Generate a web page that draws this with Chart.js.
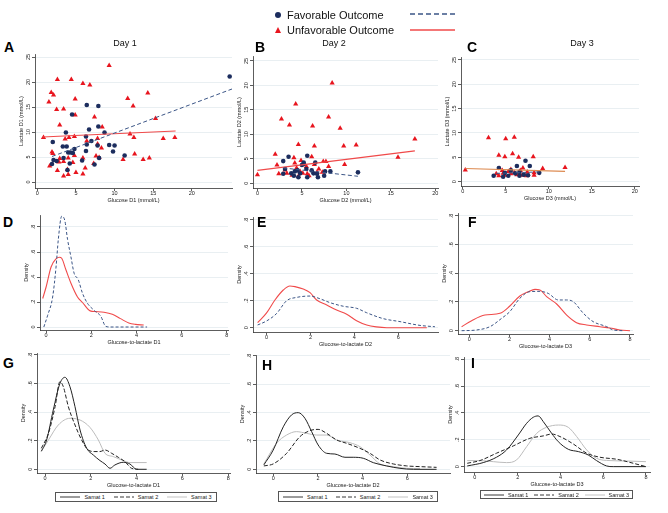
<!DOCTYPE html>
<html>
<head>
<meta charset="utf-8">
<script src="https://cdn.jsdelivr.net/npm/chart.js@4.4.1/dist/chart.umd.min.js"></script>
<style>
  body { margin: 0; background: #fff; font-family: "Liberation Sans", Arial, sans-serif; }
  #fig { position: relative; width: 668px; height: 513px; overflow: hidden; }
  #fig canvas { position: absolute; }
  .letter { position: absolute; font-weight: bold; font-size: 14px; line-height: 14px; color: #000; }
  .day { position: absolute; font-size: 9px; line-height: 10px; color: #111; transform: translateX(-50%); white-space: nowrap; }
  .toplg { position: absolute; font-size: 11px; line-height: 12px; color: #111; white-space: nowrap; }
  .slegend { position: absolute; border: 0.8px solid #555; box-sizing: border-box; display: flex;
             justify-content: space-around; align-items: center; font-size: 5.5px; color: #222; }
  .slegend span.it { display: flex; align-items: center; }
  .slegend svg { margin-right: 4px; }
</style>
</head>
<body>
<div id="fig"></div>
<script>
// ---- axis ticks ----
var glucoseTicks = [0, 5, 10, 15, 20];
var lactateTicks = [0, 5, 10, 15, 20, 25];
var ratioTicks = [0, 2, 4, 6, 8];
var densityTicks = [0, 0.2, 0.4, 0.6, 0.8];

var outcomeNames = ['Favorable Outcome', 'Unfavorable Outcome'];
var samatNames = ['Samat 1', 'Samat 2', 'Samat 3'];
var dayTitles = ['Day 1', 'Day 2', 'Day 3'];

// ---- Day 1 scatter (glucose, lactate) ----
var favD1 = [[24.9,21.1],[6.4,15.4],[7.9,15.2],[4.5,13.5],[7.9,11.1],[6.7,10.5],[3.7,9.9],[8.7,9.9],[2.0,8.0],[6.3,9.1],
  [7.0,8.2],[6.4,7.5],[7.8,7.3],[9.3,7.4],[10.0,7.3],[3.3,7.1],[3.8,7.1],[4.8,6.6],[4.3,5.9],[4.6,5.8],[4.0,5.9],[6.3,6.2],
  [9.8,6.1],[3.4,4.8],[2.1,4.4],[2.5,4.2],[5.8,4.3],[11.3,5.3],[4.2,3.7],[1.9,3.6],[7.4,3.5],[3.9,2.4],[8.0,4.8]];
var unfavD1 = [[0.8,8.9],[9.3,23.3],[2.6,20.5],[4.4,20.5],[5.9,19.7],[6.8,19.4],[1.8,17.9],[2.1,17.4],[1.5,16.0],[4.9,16.6],
  [11.7,16.7],[14.3,17.8],[12.4,15.2],[2.5,14.5],[3.4,14.6],[4.9,13.4],[7.4,13.0],[2.9,11.4],[8.4,11.0],[15.3,12.7],
  [12.0,9.6],[12.5,8.9],[16.3,8.7],[17.8,8.9],[3.6,8.6],[4.1,8.9],[4.8,9.1],[7.8,8.7],[6.4,8.2],[7.8,7.6],[8.3,6.8],
  [1.9,6.0],[2.0,5.7],[2.9,4.7],[4.0,4.8],[4.8,5.3],[5.9,4.8],[8.0,4.9],[12.6,5.6],[14.5,4.8],[13.7,4.5],[11.1,4.5],
  [1.6,3.2],[2.8,4.0],[3.4,4.1],[4.6,3.9],[7.3,3.7],[2.6,2.3],[3.9,2.5],[5.0,1.9],[6.2,2.8],[4.0,1.5],[3.4,1.2],[5.9,1.6],[7.6,5.2]];
var favFitD1 = [[1.9,5.1],[25.2,18.6]];
var unfavFitD1 = [[0.7,9.0],[17.9,10.2]];

// ---- Day 2 scatter ----
var favD2 = [[3.5,5.4],[5.6,5.6],[2.9,4.5],[5.2,3.9],[6.5,4.2],[3.1,2.9],[3.8,2.0],[4.5,2.6],[5.0,3.7],[5.5,2.9],[6.1,2.6],
  [6.7,1.9],[4.1,1.5],[2.9,1.9],[7.6,2.4],[8.2,2.4],[7.5,1.5],[5.6,1.2],[6.8,1.2],[4.6,1.2],[11.3,2.2],[6.3,2.0],[4.8,2.0],
  [4.2,2.4],[5.2,4.2]];
var unfavD2 = [[0.0,1.7],[8.4,20.5],[2.7,13.1],[4.3,16.2],[3.6,11.9],[6.2,11.7],[8.0,13.5],[9.3,11.2],[4.6,7.9],[6.4,7.6],
  [9.7,7.6],[11.1,7.8],[17.7,9.0],[15.8,5.3],[2.0,5.9],[4.1,5.2],[4.9,4.6],[6.1,5.4],[2.2,3.7],[3.1,2.7],[2.4,1.9],[7.4,4.4],
  [7.7,4.4],[9.8,3.8],[6.4,3.8],[4.4,3.1],[5.5,3.4],[6.9,2.9],[8.0,3.4],[5.1,2.0],[5.8,1.5],[4.6,1.4],[6.7,2.2],[4.8,2.4],
  [3.3,2.0],[7.3,2.2],[5.6,1.9],[3.9,1.6],[4.2,4.1]];
var favFitD2 = [[2.9,3.1],[11.3,1.4]];
var unfavFitD2 = [[0.0,2.6],[17.7,6.6]];

// ---- Day 3 scatter ----
var favD3 = [[7.3,4.3],[6.3,3.2],[7.8,3.2],[4.2,2.8],[8.9,1.8],[3.6,1.2],[5.3,1.2],[6.6,1.2],[7.1,1.4],[7.6,1.3],[5.6,2.3],
  [6.6,2.0],[4.7,1.0],[6.1,1.7],[4.9,1.8]];
var unfavD3 = [[0.3,2.4],[3.0,9.0],[5.0,8.8],[6.0,9.1],[4.2,5.4],[4.9,5.1],[5.8,5.7],[6.5,5.0],[8.2,5.1],[11.9,2.9],[9.3,2.7],
  [4.3,2.7],[5.3,2.1],[4.7,1.7],[3.9,1.6],[6.0,1.8],[6.7,2.3],[7.5,2.0],[8.3,1.8],[8.3,1.3],[5.6,1.6],[6.3,1.4],[7.4,1.2],
  [4.2,1.2],[4.9,1.3],[6.9,1.3],[4.6,2.3],[5.6,2.5],[7.0,2.8]];
var favFitD3 = [[3.9,1.7],[9.0,2.0]];
var unfavFitD3 = [[0.3,2.7],[11.9,2.1]];

// ---- glucose-to-lactate densities by outcome ----
var favRatioD1 = [[-0.1,0],[0.07,0.094],[0.29,0.24],[0.44,0.48],[0.54,0.70],[0.69,0.886],[0.83,0.85],[0.95,0.70],[1.1,0.56],
  [1.24,0.43],[1.42,0.38],[1.61,0.27],[1.83,0.19],[2.12,0.134],[2.42,0.086],[2.64,0.005],[2.85,0],[4.47,0]];
var unfavRatioD1 = [[-0.15,0.228],[0,0.32],[0.22,0.48],[0.44,0.545],[0.59,0.558],[0.69,0.55],[0.88,0.456],[1.1,0.35],
  [1.39,0.24],[1.61,0.196],[1.95,0.129],[2.2,0.123],[2.56,0.118],[2.93,0.102],[3.29,0.067],[3.66,0.032],[3.95,0.021],[4.32,0.016]];
var favRatioD2 = [[-0.41,0.02],[0,0.05],[0.46,0.106],[0.91,0.2],[1.37,0.225],[1.98,0.235],[2.43,0.215],[2.89,0.186],
  [3.5,0.159],[4.1,0.144],[4.56,0.111],[5.32,0.067],[6.08,0.045],[6.99,0.017],[7.67,0.007]];
var unfavRatioD2 = [[-0.41,0.037],[0,0.11],[0.38,0.206],[0.76,0.28],[1.06,0.31],[1.29,0.305],[1.67,0.287],[1.98,0.26],
  [2.28,0.206],[2.74,0.168],[3.19,0.131],[3.65,0.10],[4.1,0.052],[4.56,0.02],[5.0,0.006],[5.47,0],[7.3,0]];
var favRatioD3 = [[-0.38,0],[0.37,0.005],[1.03,0.028],[1.61,0.086],[2.02,0.133],[2.52,0.226],[3.02,0.272],[3.52,0.274],
  [3.93,0.26],[4.43,0.214],[4.85,0.214],[5.18,0.202],[5.68,0.121],[6.17,0.063],[6.84,0.028],[7.17,0.005],[7.67,0]];
var unfavRatioD3 = [[-0.38,0.028],[0.12,0.07],[0.78,0.109],[1.53,0.121],[2.02,0.172],[2.52,0.242],[2.94,0.272],[3.27,0.288],
  [3.52,0.284],[3.85,0.237],[4.35,0.186],[4.85,0.109],[5.34,0.056],[5.84,0.04],[6.5,0.028],[7.0,0.019],[7.5,0.005],[8.0,0]];

// ---- glucose-to-lactate densities by Samat grade ----
var samat1D1 = [[-0.16,0.126],[0.07,0.205],[0.36,0.415],[0.65,0.6],[0.87,0.644],[1.09,0.578],[1.31,0.438],[1.53,0.275],
  [1.82,0.147],[2.11,0.1],[2.4,0.061],[2.62,0.037],[2.84,0.007],[3.05,0.03],[3.42,0.049],[3.71,0.037],[4.0,0],[4.44,0]];
var samat2D1 = [[-0.16,0.147],[0.15,0.252],[0.44,0.438],[0.65,0.613],[0.8,0.578],[1.02,0.438],[1.31,0.31],[1.6,0.205],
  [1.89,0.135],[2.18,0.124],[2.4,0.124],[2.62,0.135],[2.91,0.112],[3.2,0.084],[3.49,0.054],[3.78,0.007],[4.07,0]];
var samat3D1 = [[-0.16,0.126],[0.15,0.205],[0.58,0.31],[1.09,0.357],[1.53,0.345],[1.96,0.294],[2.33,0.205],[2.62,0.112],
  [2.98,0.089],[3.42,0.061],[3.71,0.047],[4.44,0.047]];
var samat1D2 = [[-0.42,0.031],[0,0.136],[0.45,0.3],[0.82,0.384],[1.12,0.4],[1.42,0.36],[1.72,0.266],[2.01,0.172],[2.39,0.113],
  [2.76,0.108],[3.21,0.085],[3.58,0.085],[4.03,0.078],[4.48,0.047],[5.07,0.024],[5.67,0.007],[6.27,0],[7.31,0]];
var samat2D2 = [[-0.42,0.024],[0,0.038],[0.6,0.113],[1.19,0.23],[1.64,0.273],[2.01,0.282],[2.39,0.254],[2.84,0.207],
  [3.28,0.184],[3.88,0.148],[4.33,0.113],[4.78,0.066],[5.37,0.038],[5.97,0.024],[6.57,0.019],[7.31,0.014]];
var samat3D2 = [[-0.42,0.038],[0.15,0.184],[0.6,0.242],[1.04,0.266],[1.49,0.254],[1.94,0.242],[2.39,0.242],[2.84,0.207],
  [3.43,0.188],[3.88,0.16],[4.33,0.101],[4.78,0.038],[5.37,0.019],[5.97,0.007],[6.57,0.005]];
var samat1D3 = [[-0.36,0.005],[0.39,0.03],[1.01,0.07],[1.48,0.124],[2.03,0.236],[2.42,0.323],[2.73,0.368],[2.96,0.378],
  [3.2,0.335],[3.59,0.248],[3.9,0.186],[4.37,0.129],[4.84,0.112],[5.3,0.087],[5.69,0.045],[6.16,0.005],[6.47,0],[8,0]];
var samat2D3 = [[-0.36,0.025],[0.23,0.045],[1.01,0.1],[1.79,0.154],[2.57,0.211],[3.2,0.229],[3.59,0.243],[3.98,0.224],
  [4.6,0.169],[5.23,0.1],[5.85,0.07],[6.63,0.055],[7.41,0.025],[8,0]];
var samat3D3 = [[-0.36,0.045],[0.23,0.045],[0.86,0.037],[1.48,0.03],[1.95,0.05],[2.42,0.149],[2.89,0.248],[3.35,0.293],
  [3.9,0.31],[4.37,0.293],[4.76,0.224],[5.23,0.124],[5.69,0.062],[6.32,0.045],[7.1,0.042],[8,0.037]];

// ---- styles ----
var NAVY = '#1c2d5e';
var NAVY_LINE = '#3b5586';
var RED = '#e8151e';
var RED_LINE = '#f04a4a';
var GRID = '#e3ebef';
var TXT = '#222';
var FONT = '"Liberation Sans", Arial, sans-serif';
var samatStyles = [
  { color: '#222', dash: [] },
  { color: '#222', dash: [4, 2] },
  { color: '#bcbcbc', dash: [] }
];

function toXY(arr) {
  return arr.map(function (p) { return { x: p[0], y: p[1] }; });
}
function pts(arr, color, style, r) {
  return { data: toXY(arr), backgroundColor: color, borderColor: color, pointStyle: style,
           pointRadius: r, pointBorderWidth: 0, showLine: false };
}
function curve(arr, color, dash, w) {
  return { data: toXY(arr), borderColor: color, borderWidth: w || 1, borderDash: dash || [],
           showLine: true, pointRadius: 0, cubicInterpolationMode: 'monotone', fill: false };
}
function fmtDensity(v) {
  return v === 0 ? '0' : String(Math.round(v * 10) / 10).replace(/^0/, '');
}
function fmtLactate(v) { return String(v); }

// rotated y tick labels (Stata style); formatter kept on the canvas, not in options
var rotYTicks = {
  id: 'rotYTicks',
  afterDraw: function (chart) {
    var s = chart.scales.y, ctx = chart.ctx;
    var fmt = chart.canvas._yfmt;
    ctx.save();
    ctx.fillStyle = TXT;
    ctx.font = '5.5px ' + FONT;
    ctx.textAlign = 'center';
    ctx.textBaseline = 'middle';
    s.ticks.forEach(function (t) {
      var y = s.getPixelForValue(t.value);
      ctx.save();
      ctx.translate(s.right - 7, y);
      ctx.rotate(-Math.PI / 2);
      ctx.fillText(fmt(t.value), 0, 0);
      ctx.restore();
    });
    ctx.restore();
  }
};

var YW = 17, XH = 16, TP = 4, RP = 6;
var fig = document.getElementById('fig');

function makePanel(p) {
  var c = document.createElement('canvas');
  var w = YW + (p.R - p.L) + RP, h = TP + (p.B - p.T) + XH;
  c.width = w; c.height = h;
  c.style.left = (p.L - YW) + 'px';
  c.style.top = (p.T - TP) + 'px';
  c.style.width = w + 'px'; c.style.height = h + 'px';
  c._yfmt = p.yfmt;
  fig.appendChild(c);

  new Chart(c.getContext('2d'), {
    type: 'scatter',
    data: { datasets: p.sets },
    options: {
      responsive: false,
      animation: false,
      devicePixelRatio: 1,
      layout: { padding: { top: TP, right: RP, left: 0, bottom: 0 } },
      plugins: { legend: { display: false }, tooltip: { enabled: false } },
      scales: {
        x: {
          type: 'linear', min: p.x[0], max: p.x[1],
          afterBuildTicks: function (s) {
            s.ticks = p.xt.filter(function (v) { return v >= p.x[0] && v <= p.x[1]; })
                          .map(function (v) { return { value: v }; });
          },
          afterFit: function (s) { s.height = XH; },
          ticks: { font: { size: 5.5, family: FONT, lineHeight: 1 }, color: TXT, padding: 0,
                   maxRotation: 0, autoSkip: false },
          grid: { drawOnChartArea: false, tickLength: 3, tickColor: '#333', tickWidth: 0.8 },
          border: { color: '#333', width: 0.8 },
          title: { display: true, text: p.xTitle, color: TXT, padding: 0,
                   font: { size: 5.5, family: FONT, lineHeight: 1.2 } }
        },
        y: {
          type: 'linear', min: p.y[0], max: p.y[1],
          afterBuildTicks: function (s) {
            s.ticks = p.yt.map(function (v) { return { value: v }; });
          },
          afterFit: function (s) { s.width = YW; },
          ticks: { display: false },
          grid: { color: GRID, lineWidth: 0.8, tickLength: 3, tickColor: '#333', tickWidth: 0.8 },
          border: { color: '#333', width: 0.8 },
          title: { display: true, text: p.yTitle, color: TXT, padding: 0,
                   font: { size: 5.5, family: FONT, lineHeight: 1.2 } }
        }
      }
    },
    plugins: [rotYTicks]
  });
}

var panels = [
  { L: 35, T: 54, R: 232, B: 188, x: [-0.3, 25.2], y: [-1.2, 25.6], xt: glucoseTicks, yt: lactateTicks, yfmt: fmtLactate,
    xTitle: 'Glucose D1 (mmol/L)', yTitle: 'Lactate D1 (mmol/L)',
    sets: [curve(favFitD1, NAVY_LINE, [4, 2.5], 1), curve(unfavFitD1, RED_LINE, [], 1.1),
           pts(favD1, NAVY, 'circle', 2.3), pts(unfavD1, RED, 'triangle', 3)] },
  { L: 253, T: 56, R: 438, B: 188, x: [-0.5, 20.3], y: [-1.0, 26.0], xt: glucoseTicks, yt: lactateTicks, yfmt: fmtLactate,
    xTitle: 'Glucose D2 (mmol/L)', yTitle: 'Lactate D2 (mmol/L)',
    sets: [curve(favFitD2, NAVY_LINE, [4, 2.5], 1), curve(unfavFitD2, RED_LINE, [], 1.1),
           pts(favD2, NAVY, 'circle', 2.3), pts(unfavD2, RED, 'triangle', 3)] },
  { L: 461, T: 57, R: 639, B: 186, x: [-0.2, 20.5], y: [-0.9, 25.6], xt: glucoseTicks, yt: lactateTicks, yfmt: fmtLactate,
    xTitle: 'Glucose D3 (mmol/L)', yTitle: 'Lactate D3 (mmol/L)',
    sets: [curve(unfavFitD3, '#dd8a50', [], 1.1), curve(favFitD3, NAVY_LINE, [4, 2.5], 1),
           pts(favD3, NAVY, 'circle', 2.3), pts(unfavD3, RED, 'triangle', 3)] },

  { L: 40, T: 215, R: 228, B: 330, x: [-0.27, 8.05], y: [-0.024, 0.896], xt: ratioTicks, yt: densityTicks, yfmt: fmtDensity,
    xTitle: 'Glucose-to-lactate D1', yTitle: 'Density',
    sets: [curve(favRatioD1, NAVY_LINE, [3, 2], 1), curve(unfavRatioD1, RED_LINE, [], 1.1)] },
  { L: 253, T: 217, R: 438, B: 332, x: [-0.62, 7.81], y: [-0.032, 0.822], xt: ratioTicks, yt: densityTicks, yfmt: fmtDensity,
    xTitle: 'Glucose-to-lactate D2', yTitle: 'Density',
    sets: [curve(favRatioD2, NAVY_LINE, [3, 2], 1), curve(unfavRatioD2, RED_LINE, [], 1.1)] },
  { L: 458, T: 213, R: 633, B: 334, x: [-0.56, 8.15], y: [-0.023, 0.82], xt: ratioTicks, yt: densityTicks, yfmt: fmtDensity,
    xTitle: 'Glucose-to-lactate D3', yTitle: 'Density',
    sets: [curve(favRatioD3, NAVY_LINE, [3, 2], 1), curve(unfavRatioD3, RED_LINE, [], 1.1)] },

  { L: 37, T: 353, R: 230, B: 473, x: [-0.35, 8.08], y: [-0.026, 0.814], xt: ratioTicks, yt: densityTicks, yfmt: fmtDensity,
    xTitle: 'Glucose-to-lactate D1', yTitle: 'Density',
    sets: [curve(samat1D1, samatStyles[0].color, samatStyles[0].dash, 1), curve(samat2D1, samatStyles[1].color, samatStyles[1].dash, 1),
           curve(samat3D1, samatStyles[2].color, samatStyles[2].dash, 1)] },
  { L: 256, T: 355, R: 450, B: 473, x: [-0.77, 7.91], y: [-0.026, 0.807], xt: ratioTicks, yt: densityTicks, yfmt: fmtDensity,
    xTitle: 'Glucose-to-lactate D2', yTitle: 'Density',
    sets: [curve(samat1D2, samatStyles[0].color, samatStyles[0].dash, 1), curve(samat2D2, samatStyles[1].color, samatStyles[1].dash, 1),
           curve(samat3D2, samatStyles[2].color, samatStyles[2].dash, 1)] },
  { L: 464, T: 357, R: 650, B: 472, x: [-0.51, 8.19], y: [-0.04, 0.817], xt: ratioTicks, yt: densityTicks, yfmt: fmtDensity,
    xTitle: 'Glucose-to-lactate D3', yTitle: 'Density',
    sets: [curve(samat1D3, samatStyles[0].color, samatStyles[0].dash, 1), curve(samat2D3, samatStyles[1].color, samatStyles[1].dash, 1),
           curve(samat3D3, samatStyles[2].color, samatStyles[2].dash, 1)] }
];
panels.forEach(makePanel);

// ---- panel letters, day titles ----
function addDiv(cls, text, left, top) {
  var d = document.createElement('div');
  d.className = cls;
  d.textContent = text;
  d.style.left = left + 'px';
  d.style.top = top + 'px';
  fig.appendChild(d);
  return d;
}
var letters = [['A', 4, 40], ['B', 255, 40], ['C', 467, 40], ['D', 3, 215], ['E', 257, 215], ['F', 468, 215],
               ['G', 3, 356], ['H', 262, 358], ['I', 471, 356]];
letters.forEach(function (l) { addDiv('letter', l[0], l[1], l[2]); });
addDiv('day', dayTitles[0], 125, 38);
addDiv('day', dayTitles[1], 334, 38);
addDiv('day', dayTitles[2], 582, 38);

// ---- top legend ----
function svgLine(w, color, dash, sw) {
  return '<svg width="' + w + '" height="4" style="display:block"><line x1="0" y1="2" x2="' + w + '" y2="2" stroke="' +
    color + '" stroke-width="' + sw + '" stroke-dasharray="' + dash + '"/></svg>';
}
var dot = document.createElement('div');
dot.style.cssText = 'position:absolute;left:275px;top:12px;width:6px;height:6px;border-radius:50%;background:' + NAVY;
fig.appendChild(dot);
var tri = document.createElement('div');
tri.style.cssText = 'position:absolute;left:274.5px;top:26.5px;width:0;height:0;border-left:3.5px solid transparent;' +
  'border-right:3.5px solid transparent;border-bottom:6px solid ' + RED;
fig.appendChild(tri);
addDiv('toplg', outcomeNames[0], 287, 9);
addDiv('toplg', outcomeNames[1], 287, 24);
var l1 = document.createElement('div');
l1.style.cssText = 'position:absolute;left:410px;top:12px;';
l1.innerHTML = svgLine(45, NAVY_LINE, '5,3', 1.3);
fig.appendChild(l1);
var l2 = document.createElement('div');
l2.style.cssText = 'position:absolute;left:410px;top:28px;';
l2.innerHTML = svgLine(45, RED_LINE, '', 1.5);
fig.appendChild(l2);

// ---- Samat legends under bottom row ----
var samatBoxes = [[55, 492, 162, 10], [278, 491, 160, 11], [480, 490, 153, 9]];
samatBoxes.forEach(function (b) {
  var d = document.createElement('div');
  d.className = 'slegend';
  d.style.left = b[0] + 'px'; d.style.top = b[1] + 'px';
  d.style.width = b[2] + 'px'; d.style.height = b[3] + 'px';
  samatNames.forEach(function (name, i) {
    var it = document.createElement('span');
    it.className = 'it';
    it.innerHTML = svgLine(20, samatStyles[i].color, samatStyles[i].dash.join(','), 0.9) + '<span>' + name + '</span>';
    d.appendChild(it);
  });
  fig.appendChild(d);
});
</script>
</body>
</html>
